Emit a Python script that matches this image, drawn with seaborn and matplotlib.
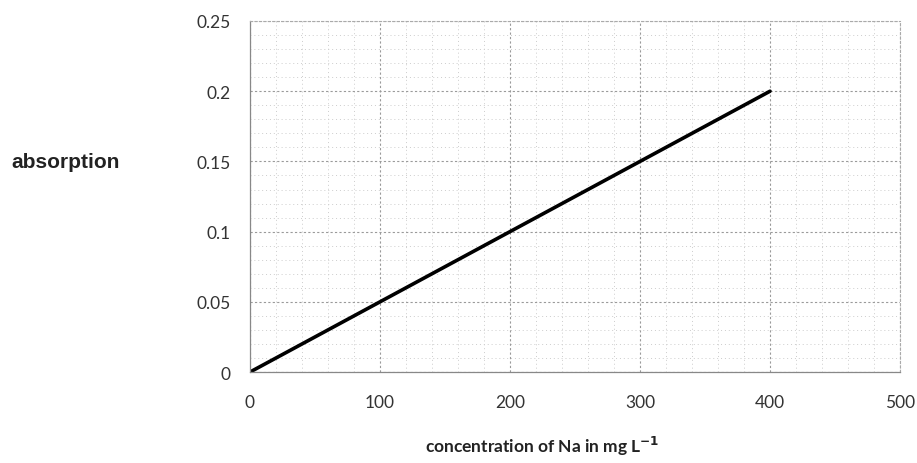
import matplotlib
matplotlib.use('Agg')

import matplotlib.pyplot as plt
import seaborn as sns
import pandas as pd
from matplotlib.ticker import MultipleLocator

# calibration line data
concentration = [0, 100, 200, 300, 400]
absorption = [0.0, 0.05, 0.10, 0.15, 0.20]

x_ticks = [0, 100, 200, 300, 400, 500]
y_ticks = [0, 0.05, 0.1, 0.15, 0.2, 0.25]
y_tick_labels = ['0', '0.05', '0.1', '0.15', '0.2', '0.25']

df = pd.DataFrame({'conc': concentration, 'abs': absorption})

sns.set_theme(style='white')
plt.rcParams['font.family'] = ['Lato', 'DejaVu Sans']

fig = plt.figure(figsize=(9.17, 4.64), dpi=100)
ax = fig.add_axes([0.2726, 0.196, 0.7089, 0.7566])

sns.lineplot(data=df, x='conc', y='abs', color='black', linewidth=2.6, ax=ax)

ax.set_xlim(0, 500)
ax.set_ylim(0, 0.25)
ax.set_xticks(x_ticks)
ax.set_yticks(y_ticks)
ax.set_yticklabels(y_tick_labels)
ax.xaxis.set_minor_locator(MultipleLocator(20))
ax.yaxis.set_minor_locator(MultipleLocator(0.01))

# major and minor grid like the spreadsheet chart
ax.grid(which='major', color='#9a9a9a', linestyle=(0, (2, 2)), linewidth=0.8)
ax.grid(which='minor', color='#cccccc', linestyle=(0, (1, 3)), linewidth=0.7)

for side in ['top', 'right']:
    ax.spines[side].set_color('#aaaaaa')
    ax.spines[side].set_linestyle((0, (2, 2)))
    ax.spines[side].set_linewidth(0.8)
for side in ['left', 'bottom']:
    ax.spines[side].set_color('#888888')
    ax.spines[side].set_linewidth(0.9)

ax.tick_params(axis='both', which='both', length=0, labelsize=12.5,
               colors='#333333')
ax.tick_params(axis='x', pad=16)
ax.tick_params(axis='y', pad=14)

ax.set_xlabel('')
ax.set_ylabel('')
fig.text(542 / 917, 1 - 446 / 464, 'concentration of Na in mg L$^{\\mathbf{-1}}$',
         fontsize=12.5, fontweight='bold', color='#222222',
         ha='center', va='center')
fig.text(66 / 917, 1 - 163 / 464, 'absorption', fontsize=15,
         fontweight='bold', color='#222222', ha='center', va='center',
         family=['Liberation Sans', 'DejaVu Sans'])

fig.savefig('out.png', dpi=100)
plt.close(fig)
